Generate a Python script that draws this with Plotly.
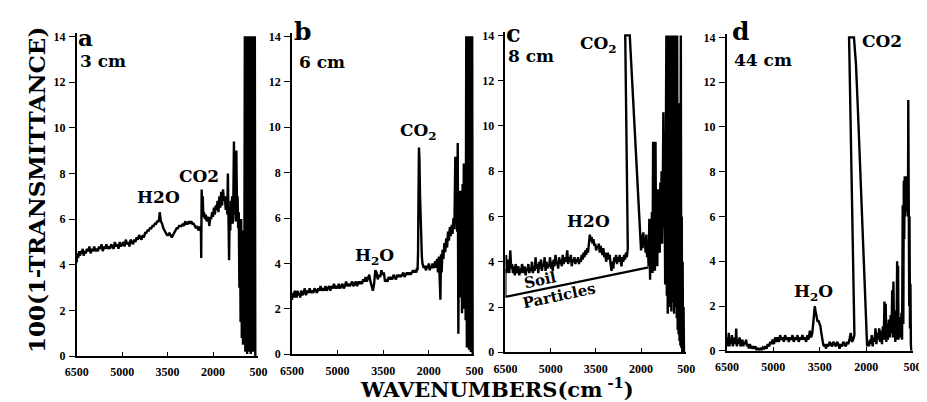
import plotly.graph_objects as go

W, H = 927, 402

TICK_WN = [6500, 5000, 3500, 2000, 500]
TICK_WN_TEXT = ["6500", "5000", "3500", "2000", "500"]
TICK_Y = [0, 2, 4, 6, 8, 10, 12, 14]
TICK_Y_TEXT = ["0", "2", "4", "6", "8", "10", "12", "14"]

# ---------------- panel a (3 cm) ----------------
a_wn = [6500, 6480, 6450, 6420, 6390, 6360, 6330, 6300, 6270, 6240,
        6200, 6160, 6120, 6080, 6040, 6000, 5960, 5920, 5880, 5840,
        5800, 5760, 5720, 5680, 5640, 5600, 5560, 5520, 5480, 5440,
        5400, 5360, 5320, 5280, 5240, 5200, 5160, 5120, 5080, 5040,
        5000, 4960, 4920, 4880, 4840, 4800, 4760, 4720, 4680, 4640,
        4600, 4560, 4520, 4480, 4440, 4400, 4360, 4320, 4280, 4240,
        4200, 4160, 4120, 4080, 4040, 4000, 3960, 3920, 3880, 3840,
        3800, 3780, 3760, 3720, 3680, 3640, 3600, 3560, 3520, 3480,
        3440, 3400, 3360, 3320, 3280, 3240, 3200, 3160, 3120, 3080,
        3040, 3000, 2960, 2920, 2880, 2840, 2800, 2760, 2720, 2680,
        2640, 2600, 2560, 2520, 2480, 2450, 2430, 2420, 2410, 2400,
        2390, 2375, 2360, 2340, 2320, 2300, 2270, 2240, 2210, 2180,
        2150, 2120, 2090, 2060, 2030, 2000, 1970, 1940, 1910, 1880,
        1850, 1820, 1790, 1760, 1730, 1700, 1670, 1640, 1610, 1580,
        1550, 1530, 1510, 1490, 1470, 1450, 1430, 1410, 1390, 1370,
        1350, 1330, 1310, 1290, 1270, 1250, 1230, 1210, 1190, 1170,
        1150, 1130, 1110, 1090, 1070, 1050, 1030, 1010, 990, 970,
        950, 935, 920, 905, 890, 875, 860, 845, 830, 815,
        800, 785, 770, 755, 740, 725, 710, 695, 680, 665,
        650, 635, 620, 605]
a_val = [4.1, 4.5, 4.3, 4.6, 4.4, 4.6, 4.5, 4.7, 4.4, 4.6,
         4.5, 4.7, 4.6, 4.8, 4.5, 4.7, 4.6, 4.8, 4.6, 4.7,
         4.6, 4.8, 4.7, 4.9, 4.6, 4.8, 4.7, 4.9, 4.7, 4.8,
         4.7, 4.9, 4.8, 4.7, 5.0, 4.8, 4.9, 4.7, 5.0, 4.8,
         4.9, 5.0, 4.8, 5.1, 4.9, 5.0, 4.8, 5.1, 5.0, 4.9,
         5.1, 5.0, 5.2, 5.1, 5.3, 5.2, 5.1, 5.3, 5.2, 5.4,
         5.4, 5.5, 5.5, 5.6, 5.6, 5.7, 5.7, 5.8, 5.8, 5.9,
         5.9, 6.0, 6.3, 5.9, 5.8, 5.6, 5.5, 5.4, 5.3, 5.3,
         5.4, 5.3, 5.2, 5.3, 5.4, 5.5, 5.6, 5.6, 5.7, 5.7,
         5.7, 5.8, 5.7, 5.9, 5.8, 5.8, 5.9, 5.8, 5.9, 5.8,
         5.8, 5.7, 5.6, 5.7, 5.5, 5.6, 5.5, 5.7, 5.5, 5.6,
         4.3, 7.3, 6.2, 7.0, 6.1, 6.3, 6.0, 6.2, 5.9, 6.1,
         6.0, 5.7, 6.1, 6.0, 6.3, 6.1, 6.5, 6.2, 6.6, 6.4,
         6.8, 6.3, 7.0, 6.5, 7.2, 6.6, 7.3, 6.8, 7.0, 6.4,
         7.0, 6.2, 8.0, 6.5, 4.2, 6.3, 5.5, 6.8, 6.0, 7.0,
         5.8, 6.8, 9.4, 6.2, 7.3, 5.9, 9.0, 6.5, 7.0, 5.6,
         6.3, 3.0, 5.8, 1.5, 6.0, 0.8, 5.5, 0.5, 4.8, 1.0,
         14, 0.2, 14, 0.5, 14, 0.1, 14, 0.3, 14, 0.2,
         14, 0.4, 14, 0.1, 14, 0.3, 14, 0.2, 14, 0.5,
         14, 0.2, 14, 0.0]

# ---------------- panel b (6 cm) ----------------
b_wn = [6500, 6470, 6440, 6410, 6380, 6350, 6320, 6290, 6260, 6230,
        6200, 6160, 6120, 6080, 6040, 6000, 5960, 5920, 5880, 5840,
        5800, 5760, 5720, 5680, 5640, 5600, 5560, 5520, 5480, 5440,
        5400, 5360, 5320, 5280, 5240, 5200, 5160, 5120, 5080, 5040,
        5000, 4960, 4920, 4880, 4840, 4800, 4760, 4720, 4680, 4640,
        4600, 4560, 4520, 4480, 4440, 4400, 4360, 4320, 4280, 4240,
        4200, 4160, 4120, 4080, 4040, 4000, 3960, 3920, 3880, 3840,
        3800, 3760, 3720, 3680, 3640, 3600, 3560, 3520, 3480, 3440,
        3400, 3360, 3320, 3280, 3240, 3200, 3160, 3120, 3080, 3040,
        3000, 2960, 2920, 2880, 2840, 2800, 2760, 2720, 2680, 2640,
        2600, 2560, 2520, 2480, 2440, 2410, 2390, 2370, 2355, 2340,
        2325, 2310, 2290, 2270, 2250, 2230, 2210, 2190, 2170, 2150,
        2120, 2090, 2060, 2030, 2000, 1970, 1940, 1910, 1880, 1850,
        1820, 1790, 1760, 1730, 1700, 1670, 1640, 1620, 1600, 1580,
        1550, 1520, 1490, 1460, 1430, 1400, 1370, 1340, 1310, 1280,
        1250, 1220, 1190, 1160, 1130, 1110, 1090, 1070, 1050, 1030,
        1010, 990, 970, 950, 930, 910, 890, 870, 850, 830,
        810, 790, 770, 750, 730, 710, 695, 680, 665, 650,
        635, 620, 605, 590, 575, 560]
b_val = [2.4, 2.7, 2.5, 2.8, 2.6, 2.5, 2.8, 2.6, 2.7, 2.5,
         2.8, 2.6, 2.7, 2.9, 2.6, 2.8, 2.7, 2.9, 2.7, 2.8,
         2.7, 2.9, 2.8, 2.7, 2.9, 2.8, 3.0, 2.8, 2.9, 2.8,
         3.0, 2.8, 2.9, 3.0, 2.8, 3.0, 2.9, 3.1, 2.9, 3.0,
         2.9, 3.1, 2.9, 3.0, 3.1, 2.9, 3.0, 3.2, 3.0, 3.1,
         3.0, 3.1, 3.2, 3.0, 3.1, 3.2, 3.0, 3.2, 3.1, 3.2,
         3.1, 3.3, 3.2, 3.4, 3.2, 3.4, 3.5, 3.2, 3.0, 2.8,
         3.1, 3.7, 3.6, 3.3, 3.5, 3.4, 3.7, 3.5, 3.6, 3.2,
         3.3, 3.2, 3.4, 3.3, 3.4, 3.3, 3.5, 3.4, 3.3, 3.5,
         3.4, 3.5, 3.4, 3.5, 3.6, 3.4, 3.5, 3.6, 3.5, 3.6,
         3.5, 3.6, 3.7, 3.6, 3.7, 3.6, 3.8, 3.7, 4.5, 7.0,
         9.1, 8.6, 7.0, 5.6, 4.8, 4.3, 4.0, 3.9, 3.8, 3.9,
         3.8, 3.7, 3.9, 3.8, 4.0, 3.7, 3.9, 3.8, 4.0, 3.8,
         3.9, 4.1, 3.8, 4.2, 3.6, 4.3, 3.2, 2.4, 4.4, 3.6,
         4.6, 4.2, 4.9, 4.5, 5.1, 4.7, 5.4, 5.0, 5.6, 5.2,
         5.7, 5.3, 6.0, 5.5, 8.7, 5.8, 6.3, 5.4, 9.3, 0.9,
         5.8, 3.0, 7.2, 2.5, 6.5, 1.8, 7.5, 3.2, 8.4, 2.0,
         7.0, 1.5, 14, 0.3, 14, 0.5, 14, 0.2, 14, 0.4,
         14, 0.1, 14, 0.3, 14, 0.0]

# ---------------- panel c (8 cm) ----------------
c_wn = [6500, 6480, 6460, 6440, 6420, 6400, 6370, 6340, 6310, 6280,
        6250, 6220, 6190, 6160, 6130, 6100, 6070, 6040, 6010, 5980,
        5950, 5920, 5890, 5860, 5830, 5800, 5770, 5740, 5710, 5680,
        5650, 5620, 5590, 5560, 5530, 5500, 5470, 5440, 5410, 5380,
        5350, 5320, 5290, 5260, 5230, 5200, 5170, 5140, 5110, 5080,
        5050, 5020, 4990, 4960, 4930, 4900, 4870, 4840, 4810, 4780,
        4750, 4720, 4690, 4660, 4630, 4600, 4570, 4540, 4510, 4480,
        4450, 4420, 4390, 4360, 4330, 4300, 4270, 4240, 4210, 4180,
        4150, 4120, 4090, 4060, 4030, 4000, 3970, 3940, 3910, 3880,
        3850, 3820, 3790, 3760, 3730, 3700, 3670, 3640, 3610, 3580,
        3550, 3520, 3490, 3460, 3430, 3400, 3370, 3340, 3310, 3280,
        3250, 3220, 3190, 3160, 3130, 3100, 3070, 3040, 3010, 2980,
        2950, 2920, 2890, 2860, 2830, 2800, 2770, 2740, 2710, 2680,
        2650, 2620, 2590, 2560, 2530, 2500, 2470, 2440, 2525, 2375,
        2020, 2000, 1975, 1950, 1925, 1900, 1875, 1850, 1825, 1800,
        1775, 1750, 1725, 1700, 1680, 1660, 1640, 1620, 1600, 1580,
        1560, 1540, 1520, 1500, 1480, 1460, 1440, 1420, 1400, 1380,
        1360, 1340, 1320, 1300, 1280, 1260, 1240, 1220, 1200, 1180,
        1160, 1145, 1130, 1115, 1100, 1085, 1070, 1055, 1040, 1025,
        1010, 995, 980, 965, 950, 935, 920, 905, 890, 875,
        860, 845, 830, 815, 800, 785, 770, 755, 740, 725,
        710, 695, 680, 665, 650, 635, 620, 605, 590, 575]
c_val = [3.8, 4.3, 3.5, 3.9, 3.6, 4.1, 3.5, 4.5, 3.7, 3.9,
         3.5, 3.8, 3.4, 3.9, 3.6, 3.5, 3.8, 3.4, 3.7, 3.5,
         3.9, 3.6, 3.5, 3.8, 3.4, 3.7, 3.6, 3.9, 3.5, 3.7,
         3.6, 4.0, 3.5, 3.8, 3.6, 4.2, 3.7, 3.9, 3.5, 4.0,
         3.7, 4.1, 3.6, 3.9, 3.8, 4.2, 3.6, 4.0, 3.7, 3.9,
         3.8, 4.2, 3.7, 4.0, 3.6, 4.1, 3.8, 4.3, 3.9, 4.0,
         3.7, 4.2, 3.9, 4.1, 3.8, 4.3, 3.9, 4.2, 4.0, 4.1,
         4.5, 3.9, 4.2, 4.0, 4.3, 3.8, 4.1, 4.0, 4.2, 3.9,
         4.1, 4.0, 4.2, 3.9, 4.1, 4.0, 4.3, 4.1, 4.4, 4.2,
         4.5, 4.3, 4.6, 4.4, 4.9, 5.2, 4.9, 5.1, 4.8, 5.0,
         4.7, 4.8, 4.5, 4.7, 4.6, 4.8, 4.4, 4.7, 4.5, 4.3,
         4.6, 4.2, 4.4, 4.0, 4.2, 4.4, 4.1, 4.3, 3.9, 3.6,
         4.0, 3.7, 4.2, 4.0, 4.3, 3.9, 4.2, 4.0, 4.3, 4.1,
         3.8, 4.2, 4.0, 4.3, 4.1, 4.4, 4.2, 4.6, 14.0, 14.0,
         4.9, 4.5, 5.2, 4.6, 5.3, 4.8, 5.0, 4.4, 5.2, 4.2,
         4.8, 3.8, 5.9, 3.2, 5.6, 4.0, 6.2, 3.5, 9.3, 4.2,
         7.0, 3.6, 9.3, 4.5, 6.5, 3.8, 7.2, 5.0, 6.8, 4.4,
         7.5, 5.2, 8.0, 4.8, 7.0, 10.6, 5.5, 8.2, 3.0, 9.0,
         14, 2.5, 14, 1.7, 12.5, 3.0, 14, 2.0, 14, 4.0,
         14, 1.8, 14, 3.5, 11.0, 2.2, 14, 1.7, 13.0, 3.0,
         14, 2.0, 12.0, 1.5, 14, 1.0, 9.0, 0.8, 11.0, 0.5,
         8.0, 0.3, 14, 0.2, 6.0, 0.0, 4.0, 0.0, 2.0, 0.0]

# soil-particle baseline drawn in panel c
soil_wn = [6500, 6500, 1750]
soil_val = [3.7, 2.45, 3.75]

# ---------------- panel d (44 cm) ----------------
d_wn = [6500, 6480, 6460, 6440, 6420, 6400, 6370, 6340, 6310, 6280,
        6250, 6220, 6200, 6180, 6150, 6120, 6090, 6060, 6030, 6000,
        5970, 5940, 5910, 5880, 5850, 5820, 5790, 5760, 5730, 5700,
        5660, 5620, 5580, 5540, 5500, 5460, 5420, 5380, 5340, 5300,
        5260, 5220, 5180, 5140, 5100, 5060, 5020, 4980, 4940, 4900,
        4860, 4820, 4780, 4740, 4700, 4660, 4620, 4580, 4540, 4500,
        4460, 4420, 4380, 4340, 4300, 4260, 4220, 4180, 4140, 4100,
        4060, 4020, 3980, 3940, 3900, 3860, 3820, 3780, 3740, 3700,
        3680, 3660, 3640, 3620, 3600, 3570, 3540, 3510, 3480, 3450,
        3420, 3390, 3360, 3330, 3300, 3260, 3220, 3180, 3140, 3100,
        3060, 3020, 2980, 2940, 2900, 2860, 2820, 2780, 2740, 2700,
        2660, 2620, 2580, 2540, 2500, 2460, 2420, 2380, 2553, 2395,
        2330, 2260, 2200, 2150, 2100, 2050, 2000, 1970, 1940, 1910,
        1880, 1850, 1820, 1790, 1760, 1730, 1700, 1670, 1640, 1610,
        1580, 1550, 1520, 1490, 1460, 1430, 1410, 1390, 1370, 1350,
        1330, 1300, 1270, 1240, 1210, 1180, 1160, 1140, 1120, 1100,
        1080, 1060, 1040, 1020, 1000, 985, 970, 955, 940, 920,
        900, 880, 860, 840, 820, 800, 785, 770, 755, 740,
        725, 710, 695, 680, 665, 650, 640, 630, 620, 610,
        600, 585, 570, 555, 540]
d_val = [0.2, 0.6, 0.3, 0.8, 0.2, 0.5, 0.3, 0.7, 0.2, 0.4,
         0.6, 0.3, 1.0, 0.2, 0.5, 0.3, 0.6, 0.2, 0.4, 0.5,
         0.2, 0.4, 0.3, 0.5, 0.2, 0.3, 0.1, 0.3, 0.2, 0.1,
         0.2, 0.1, 0.2, 0.05, 0.1, 0.05, 0.1, 0.05, 0.15, 0.1,
         0.2, 0.1, 0.3, 0.2, 0.4, 0.3, 0.5, 0.3, 0.6, 0.4,
         0.6, 0.4, 0.7, 0.5, 0.6, 0.4, 0.7, 0.5, 0.6, 0.4,
         0.6, 0.5, 0.7, 0.4, 0.6, 0.5, 0.7, 0.4, 0.6, 0.5,
         0.7, 0.5, 0.6, 0.4, 0.7, 0.5, 0.9, 0.6, 0.8, 1.4,
         1.9, 2.0, 1.8, 1.6, 1.4, 1.3, 1.35, 1.2, 1.1, 0.8,
         0.5, 0.3, 0.2, 0.3, 0.1, 0.3, 0.2, 0.4, 0.3, 0.2,
         0.4, 0.3, 0.2, 0.4, 0.3, 0.1, 0.3, 0.2, 0.4, 0.3,
         0.2, 0.4, 0.3, 0.5, 0.8, 0.4, 0.5, 0.7, 14, 14,
         12.8, 10.5, 8.4, 6.4, 4.6, 2.8, 1.0, 0.2, 0.4, 0.2,
         0.5, 0.3, 0.7, 0.2, 0.6, 0.4, 1.0, 0.3, 0.8, 0.5,
         1.0, 0.4, 0.9, 0.3, 1.1, 0.5, 2.2, 0.6, 2.1, 0.4,
         1.2, 0.5, 1.4, 0.6, 1.6, 0.8, 2.7, 0.6, 3.1, 0.7,
         1.8, 0.4, 1.5, 0.5, 4.0, 0.6, 3.8, 0.5, 1.2, 0.6,
         1.5, 0.7, 1.7, 0.5, 6.5, 1.2, 7.6, 5.0, 7.8, 6.0,
         7.6, 6.2, 7.8, 6.4, 7.5, 6.0, 11.2, 4.0, 7.8, 2.0,
         6.0, 1.0, 3.0, 0.3, 0.0]

# ---------------- layout geometry (pixels) ----------------
# (left px, right px, px of y=0, px of y=14)
PANELS = [(58, 244, 354, 26), (278.3, 465, 352, 26),
          (496.7, 681.7, 350, 25), (723.3, 913.3, 348.5, 27)]
YTOP = 14.15
TICKFONT = "Liberation Serif"
TEXTFONT = "DejaVu Serif"

fig = go.Figure()
series = [(a_wn, a_val), (b_wn, b_val), (c_wn, c_val), (d_wn, d_val)]
for i, (xs, ys) in enumerate(series):
    sfx = "" if i == 0 else str(i + 1)
    fig.add_trace(go.Scatter(x=xs, y=ys, mode="lines",
                             line=dict(color="black", width=2.4),
                             xaxis="x" + sfx, yaxis="y" + sfx,
                             hoverinfo="skip"))
fig.add_trace(go.Scatter(x=soil_wn, y=soil_val, mode="lines",
                         line=dict(color="black", width=2.2),
                         xaxis="x3", yaxis="y3", hoverinfo="skip"))

for i, (x0, x1, y0, y14) in enumerate(PANELS):
    sfx = "" if i == 0 else str(i + 1)
    scale = (y0 - y14) / 14.0
    top_px = y0 - YTOP * scale
    fig.layout["xaxis" + sfx] = dict(
        domain=[x0 / W, x1 / W], range=[6500, 500], anchor="y" + sfx,
        showline=True, linecolor="black", linewidth=1.8, showgrid=False,
        zeroline=False, ticks="inside", ticklen=4, tickwidth=1.4,
        tickcolor="black", tickvals=TICK_WN, ticktext=TICK_WN_TEXT,
        ticklabelstandoff=4,
        tickfont=dict(family=TICKFONT, size=12, color="black", weight="bold"))
    fig.layout["yaxis" + sfx] = dict(
        domain=[1 - y0 / H, 1 - top_px / H], range=[0, YTOP],
        anchor="x" + sfx, showline=True, linecolor="black", linewidth=1.8,
        showgrid=False, zeroline=False, ticks="outside", ticklen=6,
        tickwidth=1.4, tickcolor="black", tickvals=TICK_Y,
        ticktext=TICK_Y_TEXT, ticklabelstandoff=1,
        tickfont=dict(family=TICKFONT, size=12, color="black", weight="bold"))


def ann(text, x, y, size, xanchor="center", angle=0):
    return dict(text="<b>" + text + "</b>", x=x / W, y=1 - y / H,
                xref="paper", yref="paper", showarrow=False,
                xanchor=xanchor, yanchor="middle", textangle=angle,
                font=dict(family=TEXTFONT, size=size, color="black"))


annotations = [
    ann("a", 57, 27, 23, "left"), ann("3 cm", 59, 51, 17, "left"),
    ann("b", 278, 21, 25, "left"), ann("6 cm", 283, 52, 17, "left"),
    ann("c", 495, 23, 24, "left"), ann("8 cm", 497, 46, 17, "left"),
    ann("d", 726, 21, 25, "left"), ann("44 cm", 728, 50, 17, "left"),
    ann("H2O", 142, 191, 17), ann("CO2", 183, 169, 17),
    ann("H<sub>2</sub>O", 363, 252, 17), ann("CO<sub>2</sub>", 408, 124, 17),
    ann("CO<sub>2</sub>", 592, 34, 17), ann("H2O", 582, 215, 17),
    ann("CO2", 882, 31, 17), ann("H<sub>2</sub>O", 812, 289, 17),
    ann("Soil", 533, 276, 15, angle=-12),
    ann("Particles", 551, 292, 15, angle=-12),
    ann("100(1-TRANSMITTANCE)", 17, 184, 23, angle=-90),
    ann("WAVENUMBERS(cm<sup> -1</sup>)", 488, 387, 21),
]

fig.update_layout(width=W, height=H, margin=dict(l=0, r=0, t=0, b=0),
                  paper_bgcolor="white", plot_bgcolor="white",
                  showlegend=False, annotations=annotations)

fig.write_html("out.html")
